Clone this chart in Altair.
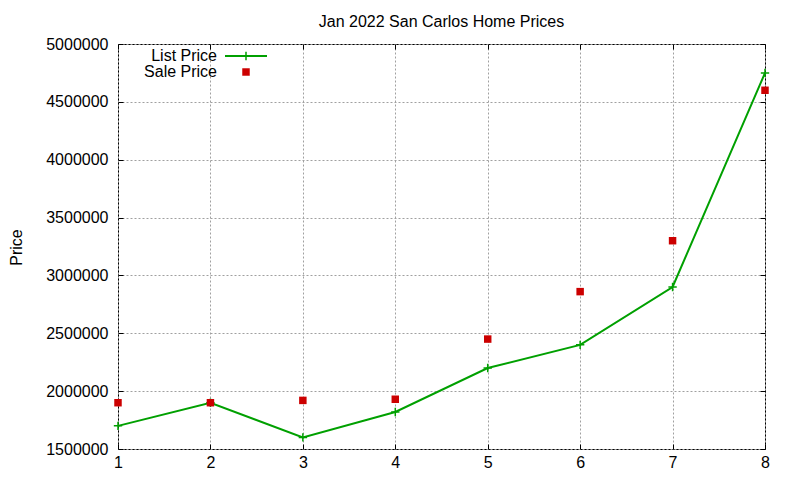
import pandas as pd
import altair as alt

# data
HOMES = [1, 2, 3, 4, 5, 6, 7, 8]
LIST_PRICE = [1700000, 1900000, 1600000, 1820000, 2200000, 2400000, 2900000, 4750000]
SALE_PRICE = [1900000, 1900000, 1920000, 1930000, 2450000, 2860000, 3300000, 4600000]
SERIES = ["List Price", "Sale Price"]
Y_TICKS = [1500000, 2000000, 2500000, 3000000, 3500000, 4000000, 4500000, 5000000]

GREEN = "#00a000"
RED = "#cc0000"
FONT = "Liberation Sans"
W, H = 647, 405
CROSS = "M-1,0H1M0,-1V1"

df = pd.DataFrame({"home": HOMES, "list": LIST_PRICE, "sale": SALE_PRICE})

x_scale = alt.Scale(domain=[1, 8], nice=False, zero=False)
y_scale = alt.Scale(domain=[1500000, 5000000], nice=False, zero=False)

grid_axis = dict(grid=True, gridColor="#a0a0a0", gridDash=[2, 2], gridWidth=1,
                 ticks=False, tickSize=0, domain=False, labelFlush=False,
                 labelFont=FONT, labelFontSize=16, labelColor="black")


def tick_axis(orient, values):
    # inward ticks: an axis flipped onto the opposite border
    off = -H if orient in ("top", "bottom") else -W
    return alt.Axis(orient=orient, offset=off, values=values, labels=False,
                    ticks=True, tickSize=5, tickColor="black", tickWidth=1,
                    domain=False, grid=False, title="")


base = alt.Chart(df)

line = base.mark_line(color=GREEN, strokeWidth=2, clip=False).encode(
    x=alt.X("home:Q", scale=x_scale,
            axis=alt.Axis(orient="bottom", values=HOMES, format="d",
                          labelPadding=5, title="", **grid_axis)),
    y=alt.Y("list:Q", scale=y_scale,
            axis=alt.Axis(orient="left", values=Y_TICKS, format="d",
                          labelPadding=10, title="Price", titleFont=FONT,
                          titleFontSize=16, titleFontWeight="normal",
                          titleColor="black", titleX=-102, titleY=203,
                          titleAlign="center", titleBaseline="middle",
                          **grid_axis)),
)

crosses = base.mark_point(shape=CROSS, filled=False, size=70, strokeWidth=1.5,
                          color=GREEN, opacity=1, clip=False).encode(
    x=alt.X("home:Q", scale=x_scale, axis=None),
    y=alt.Y("list:Q", scale=y_scale, axis=None),
)

squares = base.mark_square(size=56, color=RED, opacity=1, clip=False).encode(
    x=alt.X("home:Q", scale=x_scale, axis=None),
    y=alt.Y("sale:Q", scale=y_scale, axis=None),
)

ticks_a = base.mark_point(opacity=0).encode(
    x=alt.X("home:Q", scale=x_scale, axis=tick_axis("top", HOMES)),
    y=alt.Y("list:Q", scale=y_scale, axis=tick_axis("right", Y_TICKS)),
)
ticks_b = base.mark_point(opacity=0).encode(
    x=alt.X("home:Q", scale=x_scale, axis=tick_axis("bottom", HOMES)),
    y=alt.Y("list:Q", scale=y_scale, axis=tick_axis("left", Y_TICKS)),
)

# legend, gnuplot style (label left of the sample)
leg_list = pd.DataFrame({"label": [SERIES[0]]})
leg_sale = pd.DataFrame({"label": [SERIES[1]]})
txt = dict(align="right", baseline="alphabetic", font=FONT, fontSize=16, color="black")

leg_text1 = alt.Chart(leg_list).mark_text(**txt).encode(
    x=alt.value(99), y=alt.value(17), text="label:N")
leg_line = alt.Chart(leg_list).mark_rule(color=GREEN, strokeWidth=2).encode(
    x=alt.value(107), x2=alt.value(149), y=alt.value(12))
leg_cross = alt.Chart(leg_list).mark_point(shape=CROSS, filled=False, size=70,
                                           strokeWidth=1.5, color=GREEN, opacity=1).encode(
    x=alt.value(128), y=alt.value(12))
leg_text2 = alt.Chart(leg_sale).mark_text(**txt).encode(
    x=alt.value(99), y=alt.value(33), text="label:N")
leg_square = alt.Chart(leg_sale).mark_square(size=56, color=RED, opacity=1).encode(
    x=alt.value(128), y=alt.value(28))

chart = (
    alt.layer(line, crosses, squares, ticks_a, ticks_b,
              leg_text1, leg_line, leg_cross, leg_text2, leg_square)
    .resolve_axis(x="independent", y="independent")
    .properties(
        width=W,
        height=H,
        autosize=alt.AutoSizeParams(type="none"),
        padding={"left": 110, "top": 36, "right": 25, "bottom": 30},
        title=alt.TitleParams("Jan 2022 San Carlos Home Prices", font=FONT,
                              fontSize=16, fontWeight="normal", color="black",
                              offset=6),
    )
    .configure_view(stroke="black", strokeWidth=1)
)

chart.save("out.html", embed_options={"renderer": "svg", "actions": False})
